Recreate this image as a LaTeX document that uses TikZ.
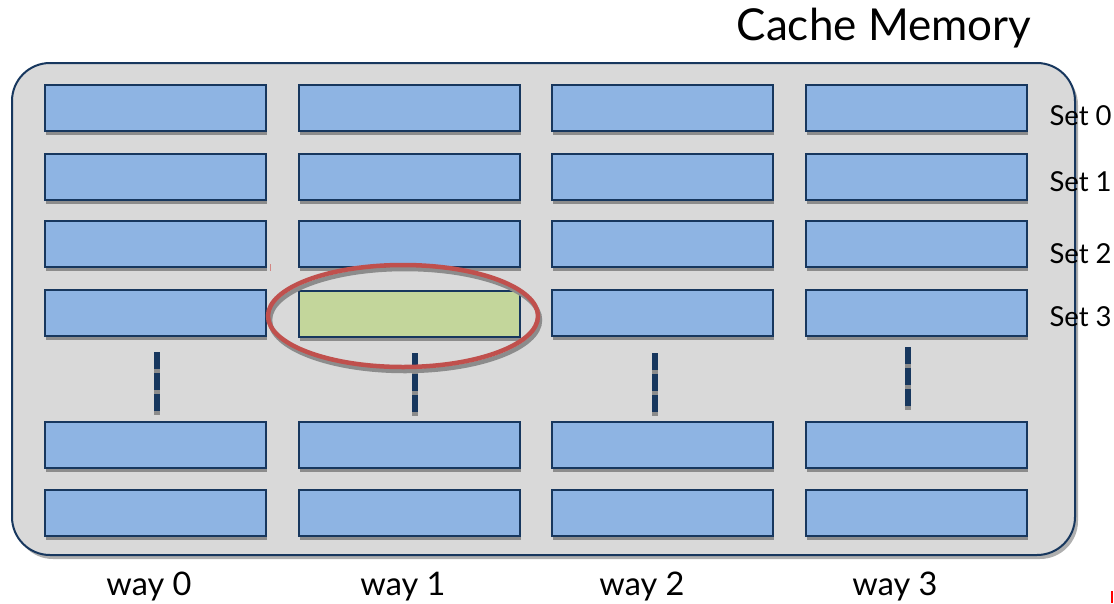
\documentclass[tikz,border=0pt]{standalone}
\usepackage{fontspec}
\setmainfont{Lato}
\usetikzlibrary{shapes.geometric,shadows}

\definecolor{panelgray}{HTML}{D9D9D9}
\definecolor{navy}{HTML}{17375E}
\definecolor{lineblue}{HTML}{8EB4E3}
\definecolor{hitgreen}{HTML}{C3D69B}
\definecolor{circlered}{HTML}{C0504D}
\definecolor{shade}{HTML}{8C8C8C}

\tikzset{
  panel/.style={draw=navy, line width=2pt, fill=panelgray, rounded corners=38pt,
    minimum width=1063pt, minimum height=492pt, inner sep=0pt,
    drop shadow={shadow xshift=3pt, shadow yshift=-4pt, opacity=1, fill=shade!70}},
  cline/.style={draw=navy, line width=2pt, fill=lineblue, inner sep=0pt,
    minimum width=221pt, minimum height=46pt,
    drop shadow={shadow xshift=1pt, shadow yshift=-4pt, opacity=1, fill=shade}},
  hitline/.style={cline, fill=hitgreen},
  ringshadow/.style={ellipse, draw=shade, line width=4.5pt, minimum width=270pt, minimum height=102pt, inner sep=0pt},
  ring/.style={ellipse, draw=circlered, line width=4.5pt, minimum width=270pt, minimum height=102pt, inner sep=0pt},
  dots/.style={draw=navy, line width=5.5pt, dash pattern=on 17pt off 4pt},
  dotshadow/.style={draw=shade, line width=5.5pt, dash pattern=on 17pt off 4pt},
  titletext/.style={font=\fontsize{44}{50}\selectfont, anchor=base},
  waytext/.style={font=\fontsize{32.5}{38}\selectfont, anchor=base},
  settext/.style={font=\fontsize{27.5}{32}\selectfont, anchor=west},
}

\begin{document}
\begin{tikzpicture}[x=1pt,y=-1pt]
\useasboundingbox (0,0) rectangle (1114,603);

% title
\node[titletext] (title) at (884,40) {Cache Memory};

% the cache panel
\node[panel] (cache) at (543.5,309) {};

% cache lines: four ways, rows 0-3 and the last two sets
\foreach \c/\x in {0/155.5,1/409,2/662,3/916}{
  \foreach \r/\y in {0/108,1/176.5,2/244,3/313,5/445,6/513}{
    \ifnum\c=1 \ifnum\r=3 \else
      \node[cline] (b\r\c) at (\x,\y) {};
    \fi\else
      \node[cline] (b\r\c) at (\x,\y) {};
    \fi
  }
}
% the selected line in way 1, set 3
\node[hitline] (b31) at (409,314) {};

% vertical ellipsis between set 3 and the last sets
\coordinate (d0a) at (157,352); \coordinate (d0b) at (157,412);
\coordinate (d1a) at (415,353); \coordinate (d1b) at (415,413);
\coordinate (d2a) at (655,353); \coordinate (d2b) at (655,413);
\coordinate (d3a) at (908,347); \coordinate (d3b) at (908,407);
\begin{scope}[transform canvas={yshift=-4pt}]
  \foreach \i in {0,...,3}{\draw[dotshadow] (d\i a) -- (d\i b);}
\end{scope}
\foreach \i in {0,...,3}{\draw[dots] (d\i a) -- (d\i b);}

% ring around the selected line
\node[ringshadow] (ringsh) at (405,320) {};
\node[ring] (ring) at (403,316) {};

% set labels
\node[settext] (s0) at (1046,116) {Set 0};
\node[settext] (s1) at (1046,182) {Set 1};
\node[settext] (s2) at (1046,254) {Set 2};
\node[settext] (s3) at (1046,317) {Set 3};

% way labels
\node[waytext] (w0) at (149,595) {way 0};
\node[waytext] (w1) at (403,595) {way 1};
\node[waytext] (w2) at (642,595) {way 2};
\node[waytext] (w3) at (895,595) {way 3};

% small marks
\coordinate (m0) at (1112,591); \coordinate (m1) at (1112,603);
\draw[red, line width=2pt] (m0) -- (m1);
\coordinate (m2) at (270,264); \coordinate (m3) at (270,271);
\draw[circlered!70, line width=0.8pt] (m2) -- (m3);
\end{tikzpicture}
\end{document}
